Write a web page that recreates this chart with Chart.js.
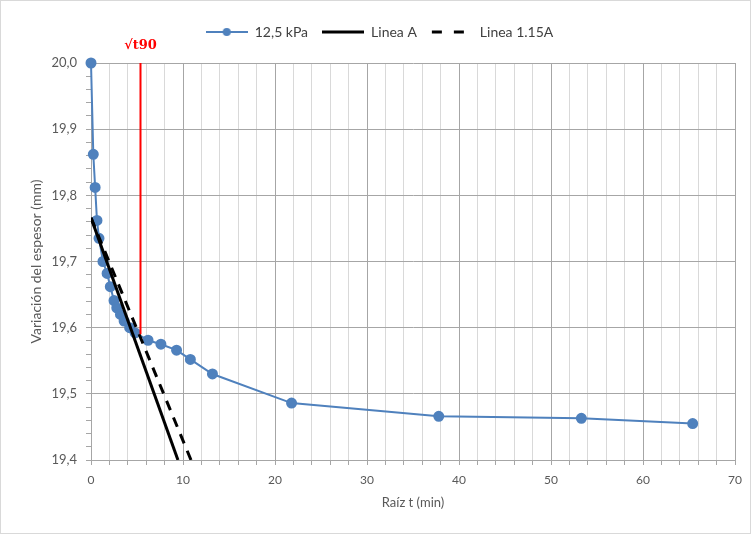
<!DOCTYPE html>
<html>
<head>
<meta charset="utf-8">
<script src="https://cdn.jsdelivr.net/npm/chart.js@4.4.0/dist/chart.umd.min.js"></script>
<style>
  html, body { margin: 0; padding: 0; background: #fff; }
  #wrap { width: 751px; height: 534px; }
</style>
</head>
<body>
<div id="wrap"><canvas id="chart" width="751" height="534"></canvas></div>
<script>
// Raíz t (min) vs espesor (mm), 12,5 kPa
const raizT = [0, 0.25, 0.45, 0.65, 0.87, 1.3, 1.75, 2.1, 2.5, 2.8, 3.2, 3.6, 4.2, 4.8, 6.2, 7.6, 9.3, 10.8, 13.2, 21.8, 37.8, 53.3, 65.4];
const espesor = [20.0, 19.862, 19.812, 19.762, 19.735, 19.700, 19.682, 19.662, 19.641, 19.630, 19.620, 19.610, 19.600, 19.592, 19.581, 19.575, 19.566, 19.552, 19.530, 19.486, 19.466, 19.463, 19.455];

// straight lines (x, y)
const lineaAx = [0, 9.45];
const lineaAy = [19.766, 19.4];
const linea115x = [0, 10.87];
const linea115y = [19.766, 19.4];

// sqrt(t90) marker
const t90x = [5.38, 5.38];
const t90y = [20.0, 19.59];

const labels = ['12,5 kPa', 'Linea A', 'Linea 1.15A'];
const xTicks = { min: 0, max: 70, step: 2, major: 10 };
const yTicks = { min: 19.4, max: 20.0, step: 0.02, major: 0.1 };

const FONT = 'Lato, "Noto Sans", sans-serif';
const GREY = '#595959';

function toPoints(xs, ys) {
    return xs.map((x, i) => ({ x: x, y: ys[i] }));
}

// Legend icons
function makeIcon(draw) {
    const c = document.createElement('canvas');
    c.width = 42;
    c.height = 12;
    draw(c.getContext('2d'));
    return c;
}
const iconSerie = makeIcon(ctx => {
    ctx.strokeStyle = '#4f81bd';
    ctx.lineWidth = 2;
    ctx.beginPath(); ctx.moveTo(0, 6); ctx.lineTo(42, 6); ctx.stroke();
    ctx.fillStyle = '#4f81bd';
    ctx.beginPath(); ctx.arc(21, 6, 4, 0, Math.PI * 2); ctx.fill();
});
const iconA = makeIcon(ctx => {
    ctx.strokeStyle = '#000';
    ctx.lineWidth = 3;
    ctx.beginPath(); ctx.moveTo(0, 6); ctx.lineTo(42, 6); ctx.stroke();
});
const iconB = makeIcon(ctx => {
    ctx.strokeStyle = '#000';
    ctx.lineWidth = 3;
    ctx.setLineDash([10, 12]);
    ctx.beginPath(); ctx.moveTo(1, 6); ctx.lineTo(42, 6); ctx.stroke();
});
const icons = [iconSerie, iconA, iconB];

function isMajor(v, step) {
    const r = v / step;
    return Math.abs(r - Math.round(r)) < 1e-6;
}

// background, outer border, extra legend room and the sqrt(t90) label
const extras = {
    id: 'extras',
    beforeLayout(chart) {
        const lg = chart.legend;
        if (lg && !lg._patched) {
            const fit = lg.fit;
            lg.fit = function () {
                fit.call(this);
                this.height += 14;
            };
            lg._patched = true;
        }
    },
    beforeDraw(chart) {
        const ctx = chart.ctx;
        ctx.save();
        ctx.fillStyle = '#fff';
        ctx.fillRect(0, 0, chart.width, chart.height);
        ctx.strokeStyle = '#d9d9d9';
        ctx.lineWidth = 1;
        ctx.strokeRect(0.5, 0.5, chart.width - 1, chart.height - 1);
        ctx.restore();
    },
    afterDraw(chart) {
        const ctx = chart.ctx;
        const x = chart.scales.x.getPixelForValue(t90x[0]);
        ctx.save();
        ctx.fillStyle = '#ff0000';
        ctx.font = 'bold 13px "DejaVu Serif", "Liberation Serif", serif';
        ctx.textAlign = 'center';
        ctx.textBaseline = 'middle';
        ctx.fillText('\u221At90', x, chart.chartArea.top - 17);
        ctx.restore();
    }
};

new Chart(document.getElementById('chart'), {
    type: 'scatter',
    data: {
        datasets: [{
            label: labels[0],
            data: toPoints(raizT, espesor),
            showLine: true,
            clip: false,
            borderColor: '#4f81bd',
            backgroundColor: '#4f81bd',
            borderWidth: 2,
            pointRadius: 4.5,
            pointHoverRadius: 4.5,
            order: 2
        }, {
            label: labels[1],
            data: toPoints(lineaAx, lineaAy),
            showLine: true,
            borderColor: '#000',
            borderWidth: 3,
            pointRadius: 0,
            order: 1
        }, {
            label: labels[2],
            data: toPoints(linea115x, linea115y),
            showLine: true,
            borderColor: '#000',
            borderWidth: 3,
            borderDash: [10, 8],
            pointRadius: 0,
            order: 1
        }, {
            label: '',
            data: toPoints(t90x, t90y),
            showLine: true,
            borderColor: '#ff0000',
            borderWidth: 2,
            pointRadius: 0,
            order: 0
        }]
    },
    options: {
        responsive: false,
        animation: false,
        layout: { padding: { left: 24, right: 16, top: 11, bottom: 19 } },
        plugins: {
            tooltip: { enabled: false },
            legend: {
                position: 'top',
                labels: {
                    usePointStyle: true,
                    pointStyleWidth: 42,
                    padding: 14,
                    color: '#404040',
                    font: { family: FONT, size: 14 },
                    filter: item => item.text !== '',
                    sort: (a, b) => a.datasetIndex - b.datasetIndex,
                    generateLabels(chart) {
                        const base = Chart.defaults.plugins.legend.labels.generateLabels(chart);
                        return base.map(l => Object.assign(l, { pointStyle: icons[l.datasetIndex] || l.pointStyle }));
                    }
                }
            }
        },
        scales: {
            x: {
                type: 'linear',
                min: xTicks.min,
                max: xTicks.max,
                afterFit(scale) { scale.height = 55; },
                ticks: {
                    stepSize: xTicks.step,
                    autoSkip: false,
                    maxRotation: 0,
                    maxTicksLimit: 100,
                    padding: 8,
                    color: GREY,
                    font: { family: FONT, size: 12 },
                    callback: v => isMajor(v, xTicks.major) ? String(Math.round(v)) : ''
                },
                grid: {
                    color: c => isMajor(c.tick.value, xTicks.major) ? '#a6a6a6' : '#d9d9d9',
                    lineWidth: 1,
                    tickLength: 5,
                    tickColor: '#a6a6a6'
                },
                border: { color: '#a6a6a6' },
                title: {
                    display: true,
                    text: 'Raíz t (min)',
                    color: GREY,
                    font: { family: FONT, size: 13 },
                    padding: { top: 4, bottom: 4 }
                }
            },
            y: {
                type: 'linear',
                min: yTicks.min,
                max: yTicks.max,
                afterFit(scale) { scale.width = 67; },
                ticks: {
                    stepSize: yTicks.step,
                    autoSkip: false,
                    maxTicksLimit: 100,
                    padding: 9,
                    color: GREY,
                    font: { family: FONT, size: 13 },
                    callback: v => isMajor(v, yTicks.major) ? v.toFixed(1).replace('.', ',') : ''
                },
                grid: {
                    color: c => isMajor(c.tick.value, yTicks.major) ? '#a6a6a6' : 'rgba(0,0,0,0)',
                    lineWidth: 1,
                    tickLength: 5,
                    tickColor: '#a6a6a6'
                },
                border: { color: '#a6a6a6' },
                title: {
                    display: true,
                    text: 'Variación del espesor (mm)',
                    color: GREY,
                    font: { family: FONT, size: 14 },
                    padding: { top: 4, bottom: 4 }
                }
            }
        }
    },
    plugins: [extras]
});
</script>
</body>
</html>
